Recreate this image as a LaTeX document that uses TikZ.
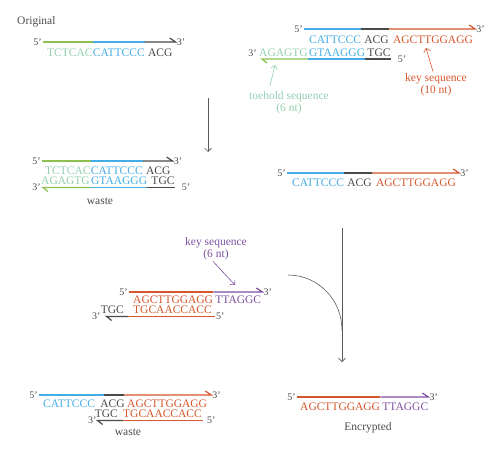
\documentclass[tikz,border=0pt]{standalone}
\usepackage{fontspec}
\setmainfont{Liberation Serif}
\usetikzlibrary{positioning, arrows.meta, calc}

\definecolor{toe}{HTML}{93CFB0}
\definecolor{lgreen}{HTML}{8CC152}
\definecolor{cblue}{HTML}{45ADE6}
\definecolor{dgray}{HTML}{4A4A4A}
\definecolor{korange}{HTML}{D4562C}
\definecolor{kpurple}{HTML}{7E4FA1}
\definecolor{agray}{HTML}{5A5A5A}

\begin{document}
\begin{tikzpicture}[
	x=1pt, y=-1pt,
	font=\fontsize{11.5}{12}\selectfont,
	>={Straight Barb[length=3.5pt,width=7pt]},
	% sequence text
	seq/.style={inner sep=0pt, anchor=base west},
	% 5' and 3' ends
	prime/.style={inner sep=1pt, text=dgray, font=\fontsize{10}{12}\selectfont},
	% strand backbone
	strand/.style={line width=1.2pt},
	caption/.style={align=center, inner sep=1pt},
	plain/.style={text=dgray, inner sep=1pt},
	steparrow/.style={->, draw=agray, line width=0.6pt},
	pointer/.style={->, line width=0.6pt}
	]
	
	\useasboundingbox (0,0) rectangle (500,455);
	
	% --- ORIGINAL ---
	\node[plain, anchor=west] (orig) at (16,22) {Original};
	\node[seq, text=toe] (o1) at (47,56) {TCTCAC};
	\node[seq, text=cblue, base right=0pt of o1] (o2) {CATTCCC};
	\node[seq, text=dgray, base right=3pt of o2] (o3) {ACG};
	\coordinate (oS) at ([shift={(-4pt,14pt)}]o1.base west);
	\coordinate (oE) at ([shift={(3pt,14pt)}]o3.base east);
	\draw[strand, lgreen] (oS) -- (oS -| o1.base east);
	\draw[strand, cblue] (oS -| o1.base east) -- (oS -| o2.base east);
	\draw[strand, dgray] (oS -| o2.base east) -- (oE) -- ++(-6pt,4pt);
	\node[prime, anchor=east] (o5p) at (oS) {5'};
	\node[prime, anchor=west] (o3p) at (oE) {3'};
	
	% --- KEY STRAND (10 nt) ---
	\node[seq, text=cblue] (t1) at (309,43) {CATTCCC};
	\node[seq, text=dgray, base right=3pt of t1] (t2) {ACG};
	\node[seq, text=korange, base right=4pt of t2] (t3) {AGCTTGGAGG};
	\coordinate (tS) at ([shift={(-5pt,14pt)}]t1.base west);
	\coordinate (tE) at ([shift={(2pt,14pt)}]t3.base east);
	\draw[strand, cblue] (tS) -- (tS -| t1.base east);
	\draw[strand, dgray] (tS -| t1.base east) -- (tS -| t2.base east);
	\draw[strand, korange] (tS -| t2.base east) -- (tE) -- ++(-6pt,4pt);
	\node[prime, anchor=east] (t5p) at (tS) {5'};
	\node[prime, anchor=west] (t3p) at (tE) {3'};
	
	% complementary strand with toehold
	\node[seq, text=toe] (b1) at (259,56) {AGAGTG};
	\node[seq, text=cblue, base right=1pt of b1] (b2) {GTAAGGG};
	\node[seq, text=dgray, base right=2pt of b2] (b3) {TGC};
	\coordinate (bS) at ([shift={(3pt,-3pt)}]b1.base west);
	\coordinate (bE) at ([yshift=-3pt]b3.base east);
	\draw[strand, lgreen] (bS -| b1.base east) -- (bS) -- ++(5pt,-4pt);
	\draw[strand, cblue] (bS -| b1.base east) -- (bS -| b2.base east);
	\draw[strand, dgray] (bS -| b2.base east) -- (bE);
	\node[prime, anchor=base east] (b3p) at ([xshift=-1pt]b1.base west) {3'};
	\node[prime, anchor=west] (b5p) at ([xshift=6pt]bE) {5'};
	
	\node[caption, text=toe] (toehold) at (289,103) {toehold sequence\\(6 nt)};
	\coordinate (toeTip) at (275,65);
	\draw[pointer, draw=toe] ([shift={(-19pt,5pt)}]toehold.north) -- (toeTip);
	
	\node[caption, text=korange] (key10) at (436,85) {key sequence\\(10 nt)};
	\coordinate (key10Tip) at (426,48);
	\draw[pointer, draw=korange] ([shift={(-3pt,1pt)}]key10.north) -- (key10Tip);
	
	% --- STEP 1 ---
	\coordinate (a1S) at (208,98);
	\coordinate (a1E) at (208,152);
	\draw[steparrow] (a1S) -- (a1E);
	
	% waste duplex
	\node[seq, text=toe] (m1) at (45,174) {TCTCAC};
	\node[seq, text=cblue, base right=0pt of m1] (m2) {CATTCCC};
	\node[seq, text=dgray, base right=3pt of m2] (m3) {ACG};
	\coordinate (mS) at ([shift={(-3pt,13pt)}]m1.base west);
	\coordinate (mE) at ([shift={(2pt,13pt)}]m3.base east);
	\draw[strand, lgreen] (mS) -- (mS -| m1.base east);
	\draw[strand, cblue] (mS -| m1.base east) -- (mS -| m2.base east);
	\draw[strand, dgray] (mS -| m2.base east) -- (mE) -- ++(-6pt,4pt);
	\node[prime, anchor=east] (m5p) at (mS) {5'};
	\node[prime, anchor=west] (m3p) at (mE) {3'};
	
	\node[seq, text=toe] (n1) at (41,184.5) {AGAGTG};
	\node[seq, text=cblue, base right=1pt of n1] (n2) {GTAAGGG};
	\node[seq, text=dgray, base right=4pt of n2] (n3) {TGC};
	\coordinate (nS) at ([shift={(2pt,-3pt)}]n1.base west);
	\coordinate (nE) at ([yshift=-3pt]n3.base east);
	\draw[strand, lgreen] (nS -| n1.base east) -- (nS) -- ++(5pt,-4pt);
	\draw[strand, cblue] (nS -| n1.base east) -- (nS -| n2.base east);
	\draw[strand, dgray] (nS -| n2.base east) -- (nE);
	\node[prime, anchor=east] (n3p) at ([xshift=-1pt]nS) {3'};
	\node[prime, anchor=west] (n5p) at ([xshift=6pt]nE) {5'};
	\node[plain] (waste1) at (100,201) {waste};
	
	% released key strand
	\node[seq, text=cblue] (r1) at (292,186) {CATTCCC};
	\node[seq, text=dgray, base right=3pt of r1] (r2) {ACG};
	\node[seq, text=korange, base right=4pt of r2] (r3) {AGCTTGGAGG};
	\coordinate (rS) at ([shift={(-5pt,13pt)}]r1.base west);
	\coordinate (rE) at ([shift={(3pt,13pt)}]r3.base east);
	\draw[strand, cblue] (rS) -- (rS -| r1.base east);
	\draw[strand, dgray] (rS -| r1.base east) -- (rS -| r2.base east);
	\draw[strand, korange] (rS -| r2.base east) -- (rE) -- ++(-6pt,4pt);
	\node[prime, anchor=east] (r5p) at (rS) {5'};
	\node[prime, anchor=west] (r3p) at (rE) {3'};
	
	% --- KEY SEQUENCE (6 nt) ---
	\node[caption, text=kpurple] (key6) at (216,249) {key sequence\\(6 nt)};
	\coordinate (key6Tip) at (235,285);
	\draw[pointer, draw=kpurple] ([xshift=-3pt]key6.south) -- (key6Tip);
	
	\node[seq, text=korange] (k1) at (133,303) {AGCTTGGAGG};
	\node[seq, text=kpurple, base right=2pt of k1] (k2) {TTAGGC};
	\coordinate (kS) at ([shift={(-4pt,11pt)}]k1.base west);
	\coordinate (kE) at ([shift={(1pt,11pt)}]k2.base east);
	\draw[strand, korange] (kS) -- (kS -| k1.base east);
	\draw[strand, kpurple] (kS -| k1.base east) -- (kE) -- ++(-6pt,4pt);
	\node[prime, anchor=east] (k5p) at (kS) {5'};
	\node[prime, anchor=west] (k3p) at (kE) {3'};
	
	\node[seq, text=korange] (l2) at (133,313.5) {TGCAACCACC};
	\node[seq, text=dgray, base left=9pt of l2] (l1) {TGC};
	\coordinate (lS) at ([shift={(6pt,-3pt)}]l1.base west);
	\coordinate (lE) at ([shift={(3pt,-3pt)}]l2.base east);
	\draw[strand, dgray] ([xshift=-5pt]lS -| l2.base west) -- (lS) -- ++(5pt,-4pt);
	\draw[strand, korange] ([xshift=-5pt]lS -| l2.base west) -- (lE);
	\node[prime, anchor=east] (l3p) at ([xshift=-5pt]lS) {3'};
	\node[prime, anchor=west] (l5p) at (lE) {5'};
	
	% --- STEP 2 ---
	\coordinate (a2S) at (342,228);
	\coordinate (a2E) at (342,362);
	\coordinate (cS) at (288,275);
	\coordinate (cM) at (342,330);
	\draw[steparrow] (a2S) -- (a2E);
	\draw[draw=agray, line width=0.6pt] (cS) to[out=0, in=90] (cM);
	
	% waste duplex
	\node[seq, text=cblue] (p1) at (43,407) {CATTCCC};
	\node[seq, text=dgray, base right=5pt of p1] (p2) {ACG};
	\node[seq, text=korange] (p3) at (127,407) {AGCTTGGAGG};
	\coordinate (pS) at ([shift={(-4pt,12pt)}]p1.base west);
	\coordinate (pE) at ([shift={(4pt,12pt)}]p3.base east);
	\draw[strand, cblue] (pS) -- ([xshift=4pt]pS -| p2.base west);
	\draw[strand, dgray] ([xshift=4pt]pS -| p2.base west) -- ([xshift=-3pt]pS -| p3.base west);
	\draw[strand, korange] ([xshift=-3pt]pS -| p3.base west) -- (pE) -- ++(-6pt,4pt);
	\node[prime, anchor=east] (p5p) at (pS) {5'};
	\node[prime, anchor=west] (p3p) at (pE) {3'};
	
	\node[seq, text=korange] (q2) at (123,417.5) {TGCAACCACC};
	\node[seq, text=dgray, base left=5pt of q2] (q1) {TGC};
	\coordinate (qS) at ([shift={(3pt,-3pt)}]q1.base west);
	\coordinate (qE) at ([shift={(1pt,-3pt)}]q2.base east);
	\draw[strand, dgray] (qS -| q2.base west) -- (qS) -- ++(5pt,-4pt);
	\draw[strand, korange] (qS -| q2.base west) -- (qE);
	\node[prime, anchor=east] (q3p) at (qS) {3'};
	\node[prime, anchor=west] (q5p) at ([xshift=3pt]qE) {5'};
	\node[plain] (waste2) at (128,432) {waste};
	
	% --- ENCRYPTED ---
	\node[seq, text=korange] (e1) at (300,410) {AGCTTGGAGG};
	\node[seq, text=kpurple, base right=2pt of e1] (e2) {TTAGGC};
	\coordinate (eS) at ([shift={(-3pt,13pt)}]e1.base west);
	\coordinate (eE) at ([yshift=13pt]e2.base east);
	\draw[strand, korange] (eS) -- (eS -| e1.base east);
	\draw[strand, kpurple] (eS -| e1.base east) -- (eE) -- ++(-6pt,4pt);
	\node[prime, anchor=east] (e5p) at (eS) {5'};
	\node[prime, anchor=west] (e3p) at (eE) {3'};
	\node[plain] (encr) at (368,428) {Encrypted};
	
\end{tikzpicture}
\end{document}
